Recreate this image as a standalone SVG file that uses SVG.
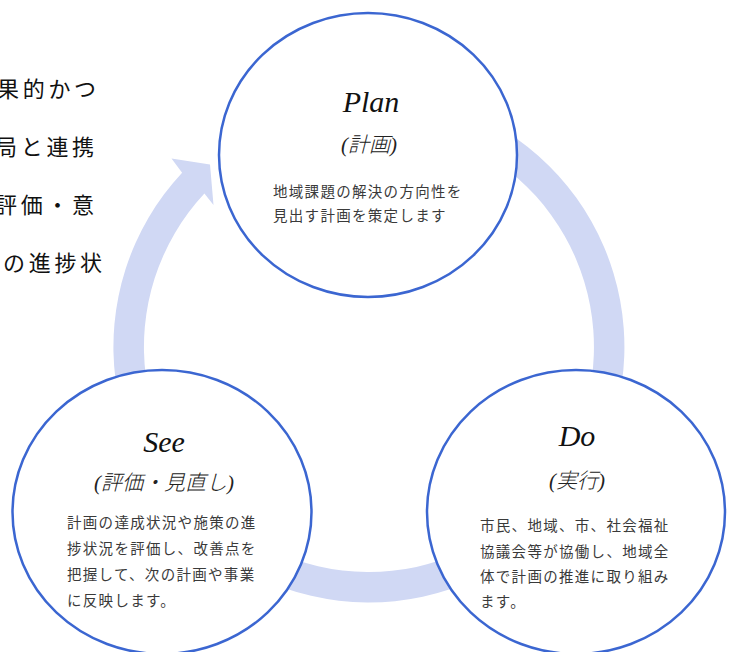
<svg xmlns="http://www.w3.org/2000/svg" width="731" height="652" viewBox="0 0 731 652">
<style>
.side{font-family:"Noto Sans CJK JP","Noto Sans",sans-serif;font-size:22px;letter-spacing:3.7px;fill:#111}
.node{fill:#fff;stroke:#3b66d1;stroke-width:2.5}
.title{font-family:"Liberation Serif",serif;font-style:italic;font-size:30px;fill:#111;text-anchor:middle}
.sub{font-family:"Liberation Serif","Noto Sans CJK JP",serif;font-style:italic;font-weight:300;font-size:21px;fill:#222;text-anchor:middle}
.desc{font-family:"Noto Sans CJK JP","Noto Sans",sans-serif;font-weight:400;font-size:14.5px;letter-spacing:1.3px;fill:#3a3a3a}
.ring{fill:#d0d8f4}
</style>
<rect width="731" height="652" fill="#fff"/>
<g id="side-text">
<text class="side" x="-3" y="97">果的かつ</text>
<text class="side" x="-5" y="155">局と連携</text>
<text class="side" x="-5" y="213">評価・意</text>
<text class="side" x="3" y="271">の進捗状</text>
</g>
<g id="connectors">
<path class="ring" d="M413.4 95.4 A255.5 255.5 0 1 1 182.1 172.7 L171.5 158.5 L210 164.5 L213.5 205 L204.4 193.5 A225 225 0 1 0 408.1 125.4 Z"/>
</g>
<g id="plan">
<ellipse class="node" cx="368" cy="155" rx="149" ry="142"/>
<text class="title" x="371" y="112">Plan</text>
<text class="sub" x="369" y="152">(計画)</text>
<text class="desc" x="273" y="197">地域課題の解決の方向性を</text>
<text class="desc" x="273" y="221">見出す計画を策定します</text>
</g>
<g id="see">
<ellipse class="node" cx="162" cy="512" rx="149.5" ry="142"/>
<text class="title" x="164" y="452">See</text>
<text class="sub" x="164" y="490">(評価・見直し)</text>
<text class="desc" x="67" y="528">計画の達成状況や施策の進</text>
<text class="desc" x="67" y="554">捗状況を評価し、改善点を</text>
<text class="desc" x="67" y="580">把握して、次の計画や事業</text>
<text class="desc" x="67" y="606">に反映します。</text>
</g>
<g id="do">
<ellipse class="node" cx="576" cy="512" rx="149" ry="142"/>
<text class="title" x="577" y="446">Do</text>
<text class="sub" x="577" y="488">(実行)</text>
<text class="desc" x="480" y="531">市民、地域、市、社会福祉</text>
<text class="desc" x="480" y="557">協議会等が協働し、地域全</text>
<text class="desc" x="480" y="582">体で計画の推進に取り組み</text>
<text class="desc" x="480" y="607">ます。</text>
</g>
</svg>
